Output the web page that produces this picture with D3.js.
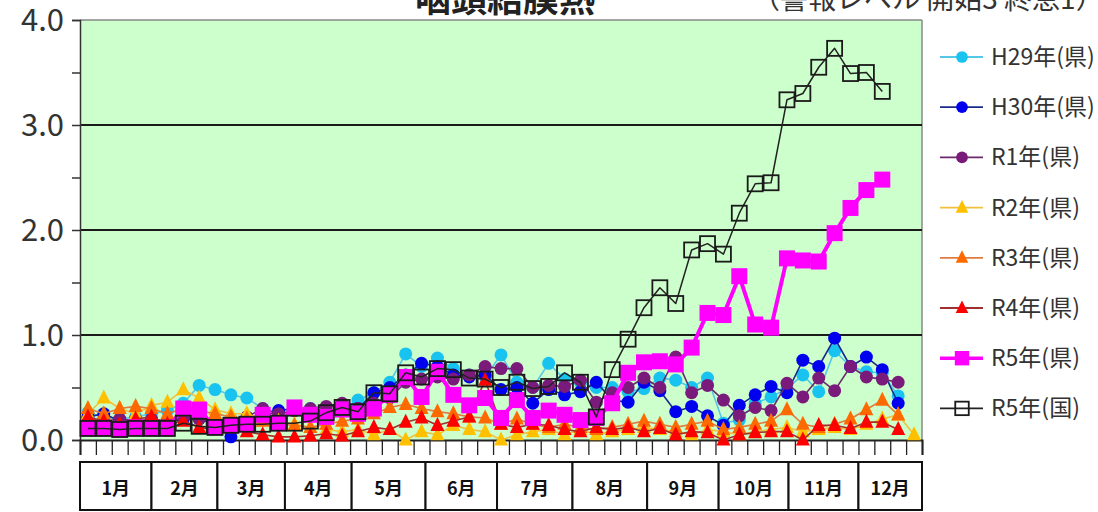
<!DOCTYPE html>
<html><head><meta charset="utf-8">
<script src="https://cdn.jsdelivr.net/npm/d3@7"></script>
<style>
html,body{margin:0;padding:0;background:#fff;}
svg{display:block;}
text{font-family:"Noto Sans CJK JP","Noto Sans",sans-serif;}
</style></head><body>
<svg id="c" width="1098" height="512"></svg>
<script>
// ---- data ----
const titleText = "咽頭結膜熱";
const subtitleText = "（警報レベル 開始3 終息1）";
const weeks = d3.range(1, 54);
const yTicks = [0, 1, 2, 3, 4];
const yTickLabels = ["0.0", "1.0", "2.0", "3.0", "4.0"];
const months = ["1月","2月","3月","4月","5月","6月","7月","8月","9月","10月","11月","12月"];
const monthEdgesWeeks = [0, 4.5, 8.65, 12.9, 17.1, 21.75, 26.25, 31.0, 35.7, 40.2, 44.6, 49.0, 53];

const H29 = [0.26,0.22,0.20,0.22,0.25,0.28,0.35,0.52,0.48,0.43,0.40,0.30,0.25,0.28,0.30,0.25,0.30,0.38,0.45,0.55,0.82,0.70,0.78,0.68,0.62,0.60,0.81,0.55,0.50,0.73,0.58,0.55,0.50,0.50,0.46,0.49,0.59,0.57,0.50,0.59,0.16,0.19,0.35,0.41,0.49,0.62,0.46,0.85,0.70,0.65,0.64,0.42];
const H30 = [0.22,0.25,0.18,0.20,0.15,0.18,0.20,0.20,0.15,0.03,0.20,0.22,0.28,0.30,0.28,0.25,0.32,0.30,0.45,0.50,0.62,0.73,0.70,0.62,0.60,0.62,0.48,0.50,0.35,0.48,0.43,0.46,0.55,0.38,0.36,0.55,0.47,0.27,0.32,0.23,0.14,0.33,0.43,0.51,0.45,0.76,0.70,0.97,0.70,0.79,0.67,0.35];
const R1 = [0.20,0.18,0.20,0.18,0.20,0.18,0.22,0.20,0.18,0.20,0.22,0.30,0.25,0.28,0.30,0.32,0.35,0.30,0.35,0.40,0.55,0.58,0.60,0.58,0.62,0.70,0.68,0.68,0.50,0.52,0.51,0.57,0.36,0.45,0.50,0.59,0.50,0.79,0.45,0.52,0.38,0.23,0.31,0.28,0.54,0.41,0.59,0.47,0.70,0.60,0.58,0.55];
const R2 = [0.25,0.40,0.30,0.25,0.33,0.36,0.48,0.40,0.29,0.25,0.25,0.20,0.18,0.15,0.12,0.10,0.08,0.10,0.05,0.10,0.00,0.08,0.05,0.14,0.10,0.08,0.00,0.05,0.08,0.10,0.05,0.10,0.05,0.08,0.10,0.12,0.10,0.08,0.05,0.10,0.08,0.05,0.08,0.10,0.12,0.08,0.10,0.12,0.10,0.15,0.20,0.24,0.05];
const R3 = [0.30,0.25,0.30,0.32,0.30,0.25,0.30,0.28,0.25,0.22,0.20,0.18,0.15,0.14,0.12,0.15,0.18,0.20,0.25,0.31,0.34,0.30,0.27,0.25,0.22,0.21,0.15,0.20,0.15,0.12,0.15,0.12,0.10,0.12,0.15,0.18,0.15,0.12,0.15,0.18,0.10,0.12,0.15,0.18,0.29,0.15,0.12,0.15,0.20,0.29,0.38,0.24];
const R4 = [0.22,0.18,0.15,0.20,0.22,0.15,0.18,0.12,0.10,0.12,0.08,0.05,0.03,0.03,0.04,0.06,0.04,0.08,0.12,0.10,0.17,0.21,0.14,0.18,0.22,0.57,0.15,0.12,0.15,0.14,0.10,0.08,0.12,0.10,0.12,0.08,0.11,0.05,0.08,0.07,0.00,0.05,0.07,0.08,0.08,0.00,0.14,0.14,0.11,0.17,0.17,0.10];
const R5ken = [0.11,0.11,0.10,0.12,0.11,0.11,0.30,0.29,0.12,0.14,0.15,0.24,0.16,0.31,0.24,0.22,0.29,0.25,0.30,0.43,0.60,0.41,0.65,0.43,0.33,0.40,0.21,0.38,0.21,0.28,0.24,0.19,0.21,0.35,0.64,0.74,0.75,0.72,0.88,1.21,1.19,1.56,1.10,1.07,1.73,1.71,1.70,1.97,2.21,2.38,2.48];
const R5kuni = [0.11,0.11,0.10,0.11,0.11,0.11,0.16,0.13,0.12,0.14,0.15,0.15,0.16,0.16,0.18,0.26,0.31,0.27,0.45,0.44,0.64,0.60,0.68,0.67,0.59,0.58,0.50,0.55,0.49,0.51,0.64,0.55,0.22,0.67,0.96,1.26,1.45,1.30,1.81,1.87,1.77,2.16,2.44,2.45,3.24,3.30,3.55,3.73,3.49,3.50,3.32];

const series = [
  {name:"H29年(県)", values:H29, line:"#55c8e8", fill:"#19c3f0", marker:"circle", lw:1.6},
  {name:"H30年(県)", values:H30, line:"#1a2a8a", fill:"#0000ee", marker:"circle", lw:1.6},
  {name:"R1年(県)", values:R1, line:"#6a2a6a", fill:"#7a1a7a", marker:"circle", lw:1.6},
  {name:"R2年(県)", values:R2, line:"#f0c040", fill:"#ffc000", marker:"triangle", lw:1.6},
  {name:"R3年(県)", values:R3, line:"#e07a40", fill:"#ff6a00", marker:"triangle", lw:1.6},
  {name:"R4年(県)", values:R4, line:"#a03030", fill:"#ff0000", marker:"triangle", lw:1.6},
  {name:"R5年(県)", values:R5ken, line:"#ff00ff", fill:"#ff00ff", marker:"square", lw:4},
  {name:"R5年(国)", values:R5kuni, line:"#222", fill:"none", marker:"opensquare", lw:1.5}
];

// ---- chart ----
const svg = d3.select("#c");
const L = 80, R = 922, T = 20, B = 440;
const x = d3.scaleBand().domain(weeks).range([L, R]);
const xw = d3.scaleLinear().domain([0, 53]).range([L, R]);
const y = d3.scaleLinear().domain([0, 4]).range([B, T]);

svg.append("rect").attr("x", L).attr("y", T).attr("width", R - L).attr("height", B - T).attr("fill", "#ccffcc");
svg.append("line").attr("x1", L).attr("x2", R).attr("y1", T).attr("y2", T).attr("stroke", "#888").attr("stroke-width", 1.5);
svg.append("line").attr("x1", R).attr("x2", R).attr("y1", T).attr("y2", B).attr("stroke", "#888").attr("stroke-width", 1.5);
svg.selectAll(".grid").data(yTicks.filter(d => d > 0 && d < 4)).join("line")
  .attr("x1", L).attr("x2", R).attr("y1", d => y(d)).attr("y2", d => y(d))
  .attr("stroke", "#1a1a1a").attr("stroke-width", 2);
const yAxis = d3.axisLeft(y).tickValues(d3.range(0, 4.01, 0.5)).tickSize(8).tickFormat("");
const ya = svg.append("g").attr("transform", `translate(${L},0)`).call(yAxis);
ya.select(".domain").attr("stroke", "#333").attr("stroke-width", 1.5);
ya.selectAll(".tick line").attr("stroke", "#333").attr("stroke-width", 1.5);
svg.selectAll(".ylab").data(yTicks).join("text")
  .attr("x", 64).attr("y", d => y(d) + 11).attr("text-anchor", "end")
  .attr("font-size", 31).attr("fill", "#333").text((d, i) => yTickLabels[i]);

const xa = svg.append("g").attr("transform", `translate(0,${B})`)
  .call(d3.axisBottom(xw).tickValues(d3.range(0, 54)).tickSize(15).tickFormat(""));
xa.select(".domain").attr("stroke", "#222").attr("stroke-width", 2);
xa.selectAll(".tick line").attr("stroke", "#222").attr("stroke-width", 1.3);

const mt = 462, mb = 510;
const mg = svg.append("g");
mg.selectAll("rect").data(months).join("rect")
  .attr("x", (d, i) => xw(monthEdgesWeeks[i])).attr("y", mt)
  .attr("width", (d, i) => xw(monthEdgesWeeks[i + 1]) - xw(monthEdgesWeeks[i]))
  .attr("height", mb - mt).attr("fill", "#fff").attr("stroke", "#111").attr("stroke-width", 2);
mg.selectAll("text").data(months).join("text")
  .attr("x", (d, i) => (xw(monthEdgesWeeks[i]) + xw(monthEdgesWeeks[i + 1])) / 2)
  .attr("y", (mt + mb) / 2 + 1).attr("text-anchor", "middle").attr("dominant-baseline", "central")
  .attr("font-size", 18).attr("font-weight", "bold").attr("fill", "#111").text(d => d);

function drawMarker(g, type, cx, cy, s, fill) {
  if (type === "circle") {
    g.append("circle").attr("cx", cx).attr("cy", cy).attr("r", 6.5 * s).attr("fill", fill);
  } else if (type === "triangle") {
    const h = 14 * s, w = 14 * s;
    g.append("path").attr("d", `M${cx},${cy - h * 0.6}L${cx + w / 2},${cy + h * 0.4}L${cx - w / 2},${cy + h * 0.4}Z`).attr("fill", fill);
  } else if (type === "square") {
    const a = 16 * s;
    g.append("rect").attr("x", cx - a / 2).attr("y", cy - a / 2).attr("width", a).attr("height", a).attr("fill", fill);
  } else {
    const a = 15 * s;
    g.append("rect").attr("x", cx - a / 2).attr("y", cy - a / 2).attr("width", a).attr("height", a)
      .attr("fill", "none").attr("stroke", "#1a1a1a").attr("stroke-width", 1.8);
  }
}

const line = d3.line().x((d, i) => x(weeks[i]) + x.bandwidth() / 2).y(d => y(d));
series.forEach(s => {
  const g = svg.append("g");
  g.append("path").datum(s.values).attr("d", line).attr("fill", "none")
    .attr("stroke", s.line).attr("stroke-width", s.lw).attr("stroke-linejoin", "round");
  s.values.forEach((v, i) => drawMarker(g, s.marker, x(weeks[i]) + x.bandwidth() / 2, y(v), 1, s.fill));
});

const lg = svg.append("g");
series.forEach((s, i) => {
  const cy = 57 + i * 50.2;
  lg.append("line").attr("x1", 940).attr("x2", 983).attr("y1", cy).attr("y2", cy)
    .attr("stroke", s.line).attr("stroke-width", s.lw === 4 ? 3.5 : 1.8);
  drawMarker(lg, s.marker, 962, cy, 0.9, s.fill);
  lg.append("text").attr("x", 991).attr("y", cy + 8).attr("font-size", 23).attr("fill", "#333").text(s.name);
});

svg.append("text").attr("x", 505).attr("y", 12).attr("text-anchor", "middle")
  .attr("font-size", 36).attr("font-weight", "bold").attr("fill", "#222").text(titleText);
svg.append("text").attr("x", 752).attr("y", 9).attr("text-anchor", "start")
  .attr("font-size", 28).attr("fill", "#333").text(subtitleText);
</script>
</body></html>
